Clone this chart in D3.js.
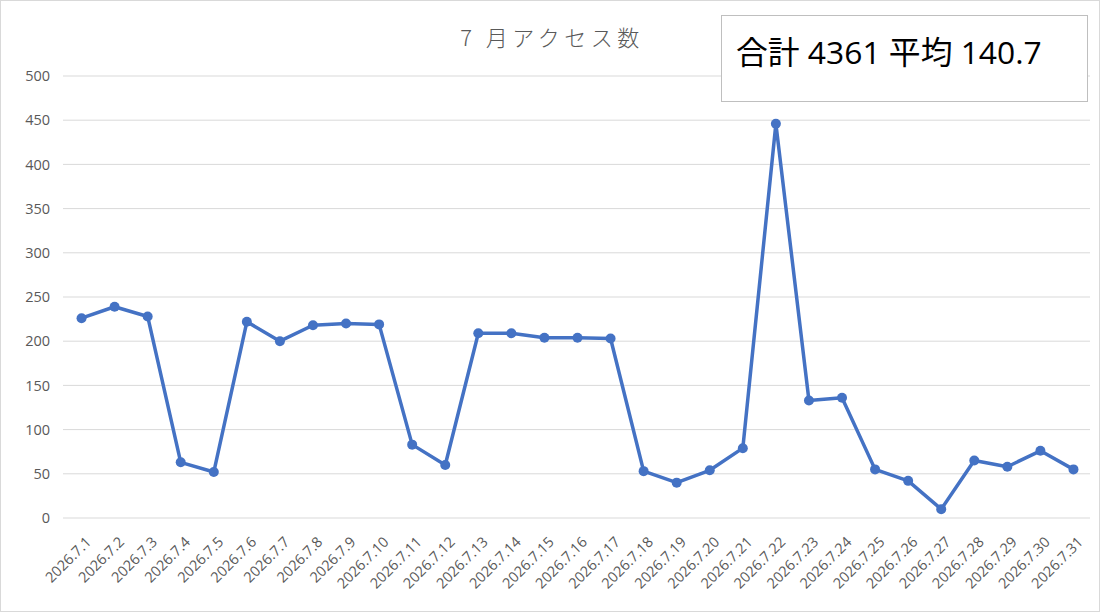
<!DOCTYPE html>
<html>
<head>
<meta charset="utf-8">
<script src="https://cdn.jsdelivr.net/npm/d3@7"></script>
<style>
  body { margin: 0; background: #fff; }
  svg { display: block; }
</style>
</head>
<body>
<div id="app"></div>
<script>
const days = d3.range(1, 32).map(d => `2026.7.${d}`)
const visits = [226, 239, 228, 63, 52, 222, 200, 218, 220, 219,
    83, 60, 209, 209, 204, 204, 203, 53, 40, 54,
    79, 446, 133, 136, 55, 42, 10, 65, 58, 76, 55]
const yTicks = [0, 50, 100, 150, 200, 250, 300, 350, 400, 450, 500]
const title = "7 月アクセス数"
const total = d3.sum(visits)
const mean = (total / visits.length).toFixed(1)

const w = 1100;
const h = 612;
const font = "'Open Sans', 'Noto Sans CJK JP', sans-serif";

const svg = d3.select("#app")
    .append("svg")
    .attr("width", w)
    .attr("height", h)
    .style("font-family", font)

svg.append("rect")
    .attr("x", 0.5).attr("y", 0.5)
    .attr("width", w - 1).attr("height", h - 1)
    .attr("fill", "#fff")
    .attr("stroke", "#d9d9d9")

const xScale = d3.scaleBand()
    .domain(days)
    .range([65, 1090])

const yScale = d3.scaleLinear()
    .domain([0, 500])
    .range([518, 76])

// gridlines
svg.append("g")
    .selectAll("line")
    .data(yTicks)
    .enter()
    .append("line")
    .attr("x1", 63)
    .attr("x2", 1090)
    .attr("y1", d => yScale(d))
    .attr("y2", d => yScale(d))
    .attr("stroke", "#d9d9d9")
    .attr("stroke-width", 1)

const yAxis = d3.axisLeft(yScale).tickValues(yTicks).tickSize(0).tickPadding(0)
svg.append("g")
    .attr("transform", "translate(50,0)")
    .call(yAxis)
    .call(g => g.select(".domain").remove())
    .selectAll("text")
    .attr("fill", "#595959")
    .style("font-size", "14.5px")
    .style("font-family", font)

const xAxis = d3.axisBottom(xScale).tickSize(0).tickPadding(0)
svg.append("g")
    .attr("transform", "translate(0,518)")
    .call(xAxis)
    .call(g => g.select(".domain").remove())
    .selectAll("text")
    .attr("fill", "#595959")
    .style("font-size", "14.5px")
    .style("font-family", font)
    .attr("text-anchor", "end")
    .attr("dy", null)
    .attr("transform", "translate(10.5,25) rotate(-45)")

const cx = d => xScale(d) + xScale.bandwidth() / 2
const line = d3.line()
    .x((d, i) => cx(days[i]))
    .y(d => yScale(d))

svg.append("path")
    .datum(visits)
    .attr("fill", "none")
    .attr("stroke", "#4472c4")
    .attr("stroke-width", 3.5)
    .attr("stroke-linejoin", "round")
    .attr("d", line)

svg.selectAll(".dot")
    .data(visits)
    .enter()
    .append("circle")
    .attr("class", "dot")
    .attr("cx", (d, i) => cx(days[i]))
    .attr("cy", d => yScale(d))
    .attr("r", 5)
    .attr("fill", "#4472c4")

svg.append("text")
    .attr("x", 552)
    .attr("y", 46)
    .attr("text-anchor", "middle")
    .attr("fill", "#595959")
    .style("font-family", "'Noto Sans CJK JP', sans-serif")
    .style("font-weight", 300)
    .style("font-size", "22px")
    .style("letter-spacing", "4.5px")
    .text(title)

svg.append("rect")
    .attr("x", 721.5).attr("y", 15.5)
    .attr("width", 366).attr("height", 86)
    .attr("fill", "#fff")
    .attr("stroke", "#bfbfbf")

svg.append("text")
    .attr("x", 736)
    .attr("y", 64)
    .attr("fill", "#000")
    .style("font-size", "31.8px")
    .text(`合計 ${total} 平均 ${mean}`)
</script>
</body>
</html>
